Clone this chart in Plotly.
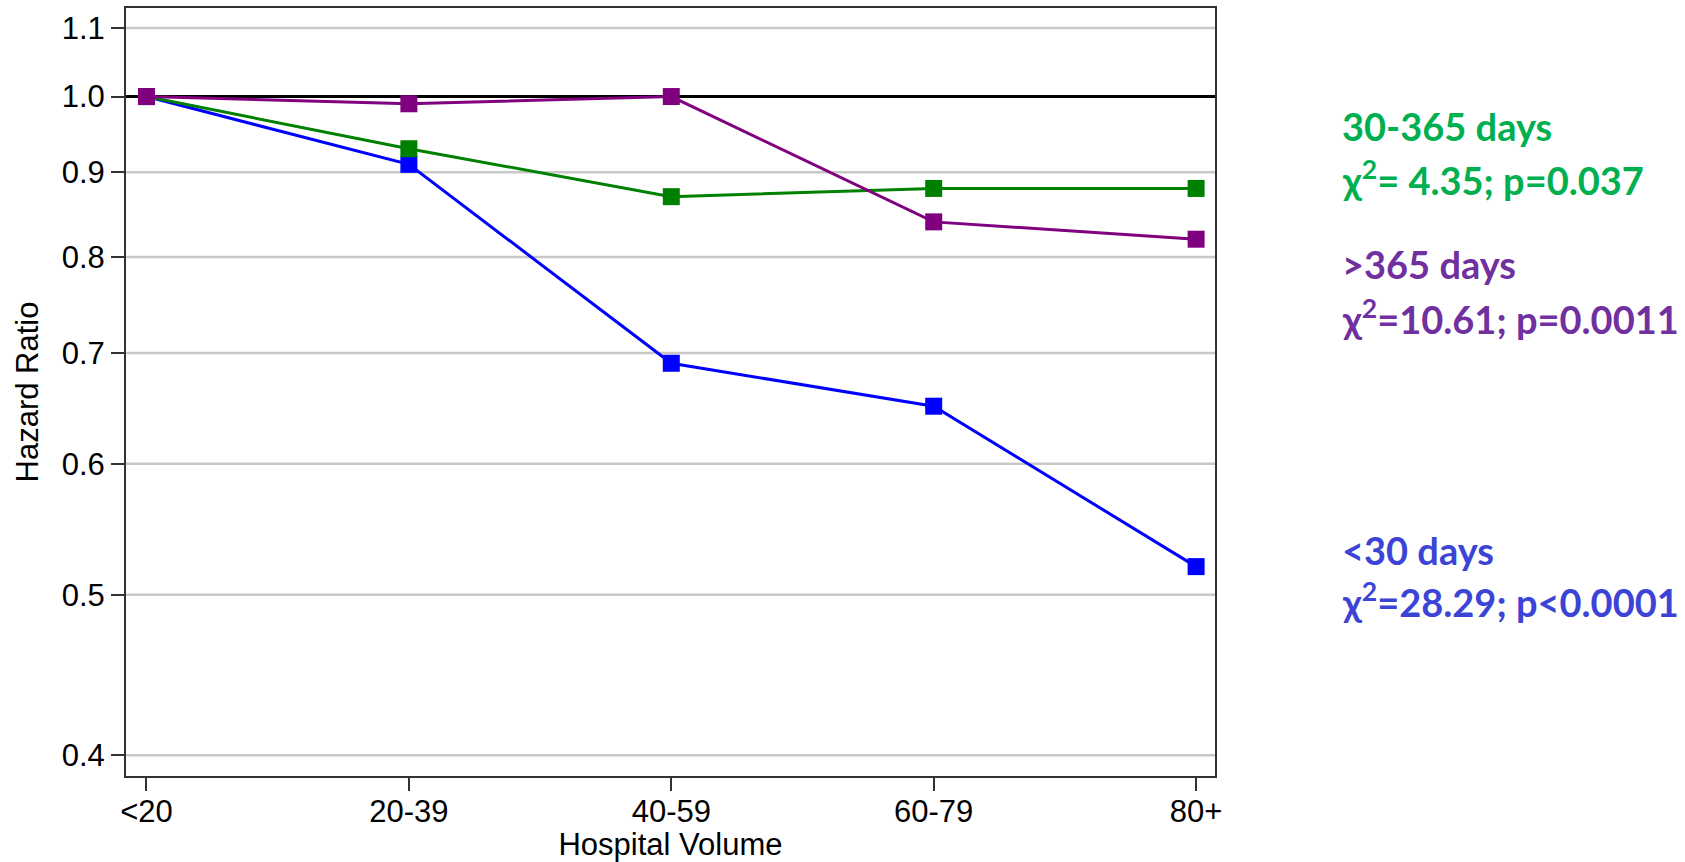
import plotly.graph_objects as go

categories = ["<20", "20-39", "40-59", "60-79", "80+"]
hr_lt30 = [1.00, 0.91, 0.69, 0.65, 0.52]
hr_30_365 = [1.00, 0.93, 0.87, 0.88, 0.88]
hr_gt365 = [1.00, 0.99, 1.00, 0.84, 0.82]
y_ticks = [0.4, 0.5, 0.6, 0.7, 0.8, 0.9, 1.0, 1.1]
y_ticktext = ["0.4", "0.5", "0.6", "0.7", "0.8", "0.9", "1.0", "1.1"]
reference_hr = 1.0

W, H = 1685, 862
L, R, T, B = 126, 1215, 8, 776

fig = go.Figure()

series = [
    ("<30 days", hr_lt30, "#0000FF"),
    ("30-365 days", hr_30_365, "#008000"),
    (">365 days", hr_gt365, "#800080"),
]
for name, vals, col in series:
    fig.add_trace(go.Scatter(
        x=categories, y=vals, mode="lines+markers", name=name,
        line=dict(color=col, width=3),
        marker=dict(symbol="square", size=17, color=col, line=dict(width=0)),
        showlegend=False, cliponaxis=False,
    ))

# gridlines (grey) and the reference line at HR = 1 (black), all beneath the data
for yv in y_ticks:
    if yv == reference_hr:
        continue
    fig.add_shape(type="line", xref="paper", x0=0, x1=1, yref="y", y0=yv, y1=yv,
                  line=dict(color="#C8C8C8", width=2.5), layer="below")
fig.add_shape(type="line", xref="paper", x0=0, x1=1, yref="y", y0=reference_hr, y1=reference_hr,
              line=dict(color="black", width=3), layer="below")

def px_to_paper_x(X):
    return (X - L) / (R - L)

def px_to_paper_y(Y):
    return (B - Y) / (B - T)

annots = [
    ("30-365 days", 126, "#00B050"),
    ("χ<sup>2</sup>= 4.35; p=0.037", 178, "#00B050"),
    ("&gt;365 days", 264, "#7030A0"),
    ("χ<sup>2</sup>=10.61; p=0.0011", 317, "#7030A0"),
    ("&lt;30 days", 550, "#3B44D6"),
    ("χ<sup>2</sup>=28.29; p&lt;0.0001", 600, "#3B44D6"),
]
for txt, yc, col in annots:
    fig.add_annotation(
        text="<b>" + txt + "</b>",
        xref="paper", yref="paper",
        x=px_to_paper_x(1340), y=px_to_paper_y(yc),
        xanchor="left", yanchor="middle", showarrow=False,
        font=dict(family="Lato", size=38, color=col),
    )

axis_font = dict(family="Liberation Sans, Arial", size=31, color="black")

fig.update_xaxes(
    type="category", range=[-0.078, 4.072],
    showline=True, mirror=True, linecolor="#333333", linewidth=2,
    ticks="outside", ticklen=13, tickwidth=2, tickcolor="#333333",
    showgrid=False, zeroline=False,
    tickfont=axis_font, ticklabelstandoff=-6,
    title=dict(text="Hospital Volume", font=axis_font, standoff=0),
)
fig.update_yaxes(
    type="log", range=[-0.4105, 0.0535],
    tickvals=y_ticks, ticktext=y_ticktext,
    showline=True, mirror=True, linecolor="#333333", linewidth=2,
    ticks="outside", ticklen=13, tickwidth=2, tickcolor="#333333",
    showgrid=False, zeroline=False,
    tickfont=axis_font,
    title=dict(text="Hazard Ratio", font=axis_font, standoff=14),
)

fig.update_layout(
    width=W, height=H,
    margin=dict(l=L, r=W - R, t=T, b=H - B, autoexpand=False),
    paper_bgcolor="white", plot_bgcolor="white",
)

fig.write_html("out.html", config={"displayModeBar": False},
               post_script="document.body.style.margin='0';document.body.style.overflow='hidden';")
